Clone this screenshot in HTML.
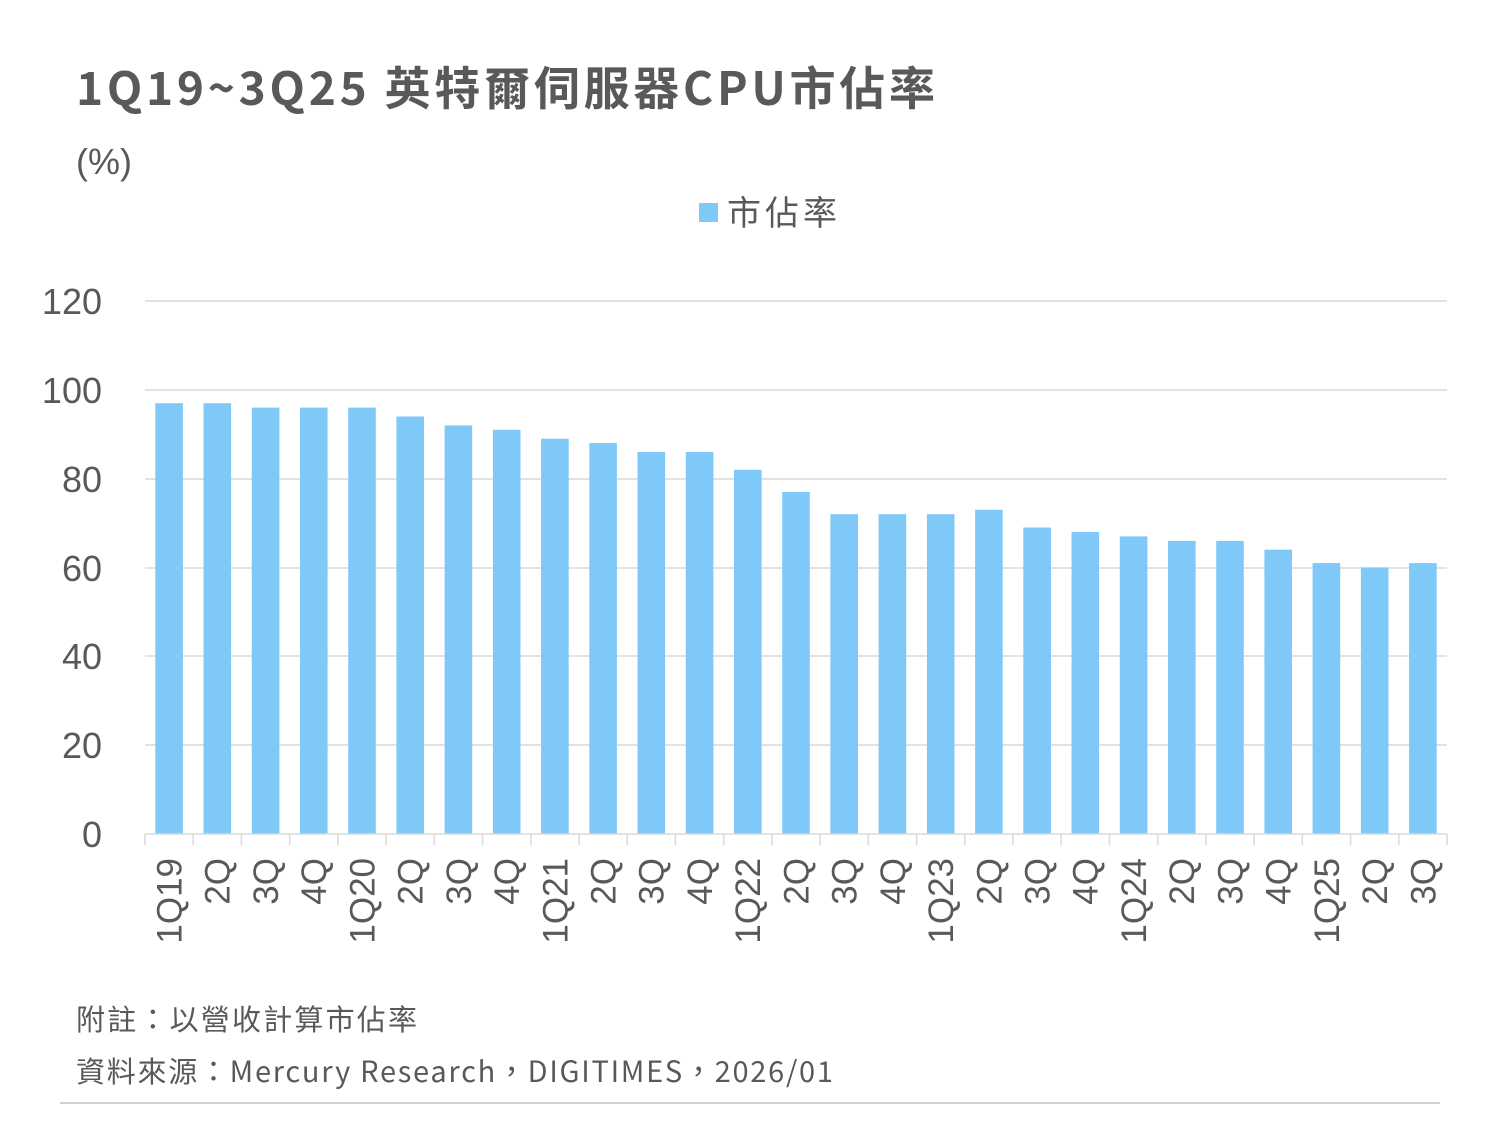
<!DOCTYPE html>
<html><head><meta charset="utf-8"><style>
body{margin:0;background:#fff;}
text{font-family:"Liberation Sans","Noto Sans CJK TC",sans-serif;fill:#595959;}
.cjk{font-family:"Noto Sans CJK TC",sans-serif;}
</style></head><body>
<svg width="1500" height="1125" xmlns="http://www.w3.org/2000/svg">
<text class="cjk" x="76" y="105" font-size="46" font-weight="bold" textLength="859" lengthAdjust="spacing">1Q19~3Q25 英特爾伺服器CPU市佔率</text>
<text x="76" y="174" font-size="36">(%)</text>
<rect x="699" y="203" width="19" height="19" fill="#7FC9F9"/>
<text class="cjk" x="727" y="225" font-size="34" textLength="110" lengthAdjust="spacing">市佔率</text>
<g stroke="#d9d9d9" stroke-width="1.5">
<line x1="145" x2="1447" y1="301" y2="301"/>
<line x1="145" x2="1447" y1="390" y2="390"/>
<line x1="145" x2="1447" y1="479" y2="479"/>
<line x1="145" x2="1447" y1="568" y2="568"/>
<line x1="145" x2="1447" y1="656" y2="656"/>
<line x1="145" x2="1447" y1="745" y2="745"/>
</g>
<g font-size="36" text-anchor="end">
<text x="102" y="314">120</text><text x="102" y="403">100</text><text x="102" y="492">80</text>
<text x="102" y="581">60</text><text x="102" y="669">40</text><text x="102" y="758">20</text><text x="102" y="847">0</text>
</g>
<g fill="#7FC9F9">
<rect x="155.3" y="403.2" width="27.6" height="430.8"/>
<rect x="203.5" y="403.2" width="27.6" height="430.8"/>
<rect x="251.8" y="407.6" width="27.6" height="426.4"/>
<rect x="300.0" y="407.6" width="27.6" height="426.4"/>
<rect x="348.2" y="407.6" width="27.6" height="426.4"/>
<rect x="396.4" y="416.5" width="27.6" height="417.5"/>
<rect x="444.6" y="425.4" width="27.6" height="408.6"/>
<rect x="492.9" y="429.8" width="27.6" height="404.2"/>
<rect x="541.1" y="438.7" width="27.6" height="395.3"/>
<rect x="589.3" y="443.1" width="27.6" height="390.9"/>
<rect x="637.5" y="452.0" width="27.6" height="382.0"/>
<rect x="685.8" y="452.0" width="27.6" height="382.0"/>
<rect x="734.0" y="469.8" width="27.6" height="364.2"/>
<rect x="782.2" y="492.0" width="27.6" height="342.0"/>
<rect x="830.4" y="514.2" width="27.6" height="319.8"/>
<rect x="878.6" y="514.2" width="27.6" height="319.8"/>
<rect x="926.9" y="514.2" width="27.6" height="319.8"/>
<rect x="975.1" y="509.8" width="27.6" height="324.2"/>
<rect x="1023.3" y="527.5" width="27.6" height="306.5"/>
<rect x="1071.5" y="532.0" width="27.6" height="302.0"/>
<rect x="1119.8" y="536.4" width="27.6" height="297.6"/>
<rect x="1168.0" y="540.9" width="27.6" height="293.1"/>
<rect x="1216.2" y="540.9" width="27.6" height="293.1"/>
<rect x="1264.4" y="549.7" width="27.6" height="284.3"/>
<rect x="1312.6" y="563.1" width="27.6" height="270.9"/>
<rect x="1360.9" y="567.5" width="27.6" height="266.5"/>
<rect x="1409.1" y="563.1" width="27.6" height="270.9"/>
</g>
<g stroke="#d9d9d9" stroke-width="1.5">
<line x1="145" x2="1447" y1="834" y2="834"/>
<line x1="145" x2="145" y1="834" y2="845"/><line x1="193.2" x2="193.2" y1="834" y2="845"/><line x1="241.4" x2="241.4" y1="834" y2="845"/><line x1="289.7" x2="289.7" y1="834" y2="845"/><line x1="337.9" x2="337.9" y1="834" y2="845"/><line x1="386.1" x2="386.1" y1="834" y2="845"/><line x1="434.3" x2="434.3" y1="834" y2="845"/><line x1="482.6" x2="482.6" y1="834" y2="845"/><line x1="530.8" x2="530.8" y1="834" y2="845"/><line x1="579" x2="579" y1="834" y2="845"/><line x1="627.2" x2="627.2" y1="834" y2="845"/><line x1="675.4" x2="675.4" y1="834" y2="845"/><line x1="723.7" x2="723.7" y1="834" y2="845"/><line x1="771.9" x2="771.9" y1="834" y2="845"/><line x1="820.1" x2="820.1" y1="834" y2="845"/><line x1="868.3" x2="868.3" y1="834" y2="845"/><line x1="916.6" x2="916.6" y1="834" y2="845"/><line x1="964.8" x2="964.8" y1="834" y2="845"/><line x1="1013" x2="1013" y1="834" y2="845"/><line x1="1061.2" x2="1061.2" y1="834" y2="845"/><line x1="1109.4" x2="1109.4" y1="834" y2="845"/><line x1="1157.7" x2="1157.7" y1="834" y2="845"/><line x1="1205.9" x2="1205.9" y1="834" y2="845"/><line x1="1254.1" x2="1254.1" y1="834" y2="845"/><line x1="1302.3" x2="1302.3" y1="834" y2="845"/><line x1="1350.6" x2="1350.6" y1="834" y2="845"/><line x1="1398.8" x2="1398.8" y1="834" y2="845"/><line x1="1447" x2="1447" y1="834" y2="845"/>
</g>
<g font-size="35" text-anchor="end">
<text transform="translate(181.5,858) rotate(-90)">1Q19</text>
<text transform="translate(229.7,858) rotate(-90)">2Q</text>
<text transform="translate(278,858) rotate(-90)">3Q</text>
<text transform="translate(326.2,858) rotate(-90)">4Q</text>
<text transform="translate(374.4,858) rotate(-90)">1Q20</text>
<text transform="translate(422.6,858) rotate(-90)">2Q</text>
<text transform="translate(470.8,858) rotate(-90)">3Q</text>
<text transform="translate(519.1,858) rotate(-90)">4Q</text>
<text transform="translate(567.3,858) rotate(-90)">1Q21</text>
<text transform="translate(615.5,858) rotate(-90)">2Q</text>
<text transform="translate(663.7,858) rotate(-90)">3Q</text>
<text transform="translate(712,858) rotate(-90)">4Q</text>
<text transform="translate(760.2,858) rotate(-90)">1Q22</text>
<text transform="translate(808.4,858) rotate(-90)">2Q</text>
<text transform="translate(856.6,858) rotate(-90)">3Q</text>
<text transform="translate(904.8,858) rotate(-90)">4Q</text>
<text transform="translate(953.1,858) rotate(-90)">1Q23</text>
<text transform="translate(1001.3,858) rotate(-90)">2Q</text>
<text transform="translate(1049.5,858) rotate(-90)">3Q</text>
<text transform="translate(1097.7,858) rotate(-90)">4Q</text>
<text transform="translate(1146,858) rotate(-90)">1Q24</text>
<text transform="translate(1194.2,858) rotate(-90)">2Q</text>
<text transform="translate(1242.4,858) rotate(-90)">3Q</text>
<text transform="translate(1290.6,858) rotate(-90)">4Q</text>
<text transform="translate(1338.8,858) rotate(-90)">1Q25</text>
<text transform="translate(1387.1,858) rotate(-90)">2Q</text>
<text transform="translate(1435.3,858) rotate(-90)">3Q</text>
</g>
<text class="cjk" x="76" y="1030" font-size="29" textLength="341" lengthAdjust="spacing">附註：以營收計算市佔率</text>
<text class="cjk" x="76" y="1082" font-size="29" textLength="757" lengthAdjust="spacing">資料來源：Mercury Research，DIGITIMES，2026/01</text>
<line x1="60" x2="1440" y1="1103" y2="1103" stroke="#bfbfbf" stroke-width="1.5"/>
</svg>
</body></html>
